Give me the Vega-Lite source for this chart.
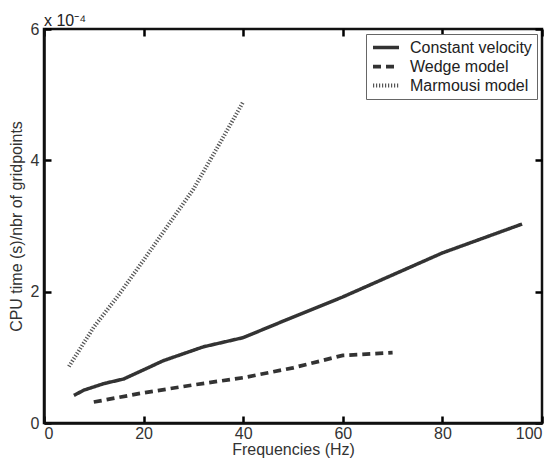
{
  "$schema": "https://vega.github.io/schema/vega-lite/v6.json",
  "width": 498,
  "height": 394,
  "autosize": {"type": "none"},
  "padding": {"left": 44, "top": 29, "right": 11, "bottom": 41},
  "background": "white",
  "title": {"text": "x 10⁻⁴", "anchor": "start", "frame": "group", "fontSize": 16, "fontWeight": "normal", "font": "Liberation Sans", "color": "#222222", "offset": 0, "dy": 8},
  "config": {
    "view": {"stroke": "#111111", "strokeWidth": 2.5}
  },
  "data": {"values": [
    {"series": "Constant velocity", "freq": 6, "cpu": 0.42},
    {"series": "Constant velocity", "freq": 8, "cpu": 0.5},
    {"series": "Constant velocity", "freq": 12, "cpu": 0.6},
    {"series": "Constant velocity", "freq": 16, "cpu": 0.67},
    {"series": "Constant velocity", "freq": 24, "cpu": 0.95},
    {"series": "Constant velocity", "freq": 32, "cpu": 1.16},
    {"series": "Constant velocity", "freq": 40, "cpu": 1.3},
    {"series": "Constant velocity", "freq": 48, "cpu": 1.55},
    {"series": "Constant velocity", "freq": 60, "cpu": 1.92},
    {"series": "Constant velocity", "freq": 80, "cpu": 2.59},
    {"series": "Constant velocity", "freq": 96, "cpu": 3.03},
    {"series": "Wedge model", "freq": 10, "cpu": 0.32},
    {"series": "Wedge model", "freq": 20, "cpu": 0.46},
    {"series": "Wedge model", "freq": 30, "cpu": 0.58},
    {"series": "Wedge model", "freq": 40, "cpu": 0.69},
    {"series": "Wedge model", "freq": 50, "cpu": 0.84},
    {"series": "Wedge model", "freq": 60, "cpu": 1.03},
    {"series": "Wedge model", "freq": 70, "cpu": 1.07},
    {"series": "Marmousi model", "freq": 5, "cpu": 0.86},
    {"series": "Marmousi model", "freq": 10, "cpu": 1.46},
    {"series": "Marmousi model", "freq": 15, "cpu": 1.95},
    {"series": "Marmousi model", "freq": 20, "cpu": 2.48},
    {"series": "Marmousi model", "freq": 25, "cpu": 3.02},
    {"series": "Marmousi model", "freq": 30, "cpu": 3.56},
    {"series": "Marmousi model", "freq": 35, "cpu": 4.22},
    {"series": "Marmousi model", "freq": 40, "cpu": 4.89}
  ]},
  "mark": {"type": "line", "clip": true},
  "encoding": {
    "x": {"field": "freq", "type": "quantitative", "scale": {"domain": [0, 100], "nice": false},
      "axis": {"title": "Frequencies (Hz)", "values": [0, 20, 40, 60, 80, 100], "ticks": false, "labelPadding": 2, "titlePadding": 0, "minExtent": 0,
        "grid": true, "gridColor": "#000000", "gridWidth": 2.5, "gridOpacity": 1, "gridDash": [7, 380, 7, 1000],
        "labelFont": "Liberation Sans", "titleFont": "Liberation Sans", "labelFontSize": 16, "titleFontSize": 16, "titleFontWeight": "normal", "labelColor": "#333333", "titleColor": "#333333",
        "domainColor": "#111111", "domainWidth": 2.5}},
    "y": {"field": "cpu", "type": "quantitative", "scale": {"domain": [0, 6], "nice": false},
      "axis": {"title": "CPU time (s)/nbr of gridpoints", "values": [0, 2, 4, 6], "ticks": false, "labelPadding": 5, "titlePadding": 6, "minExtent": 0,
        "grid": true, "gridColor": "#000000", "gridWidth": 2.5, "gridOpacity": 1, "gridDash": [7, 484, 7, 1000],
        "labelFont": "Liberation Sans", "titleFont": "Liberation Sans", "labelFontSize": 16, "titleFontSize": 16, "titleFontWeight": "normal", "labelColor": "#333333", "titleColor": "#333333",
        "domainColor": "#111111", "domainWidth": 2.5}},
    "strokeDash": {"field": "series", "type": "nominal",
      "scale": {"domain": ["Constant velocity", "Wedge model", "Marmousi model"], "range": [[1, 0], [8, 5], [1.2, 1.8]]},
      "legend": {"title": null, "orient": "top-right", "offset": 5, "strokeColor": "#666666", "fillColor": "white", "padding": 5, "labelFont": "Liberation Sans", "labelFontSize": 16, "labelColor": "#222222", "symbolType": "M-1,0H3", "symbolSize": 169, "rowPadding": 2, "labelOffset": 22, "labelExpr": "datum.label + '\u00a0\u00a0'"}},
    "strokeWidth": {"field": "series", "type": "nominal",
      "scale": {"domain": ["Constant velocity", "Wedge model", "Marmousi model"], "range": [3.5, 4, 2.5]}},
    "color": {"field": "series", "type": "nominal",
      "scale": {"domain": ["Constant velocity", "Wedge model", "Marmousi model"], "range": ["#333333", "#333333", "#555555"]}}
  }
}
